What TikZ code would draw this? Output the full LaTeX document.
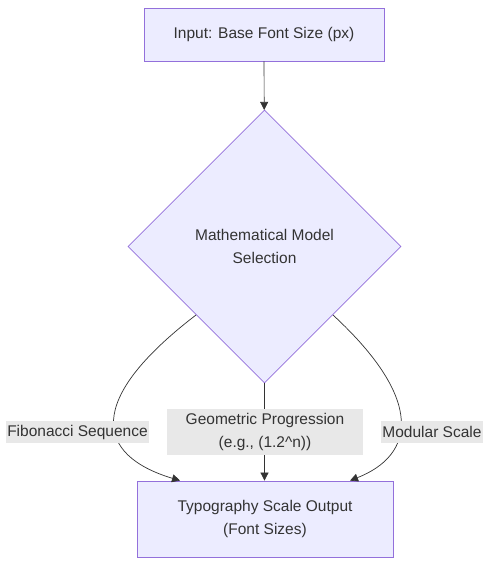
\documentclass[tikz,border=0pt]{standalone}
\usepackage{fontspec}
\setmainfont{Liberation Sans}
\usetikzlibrary{shapes.geometric,arrows.meta}
\definecolor{nodefill}{HTML}{ECECFF}
\definecolor{nodeline}{HTML}{9370DB}
\definecolor{edgecol}{HTML}{333333}
\definecolor{labelbg}{HTML}{E8E8E8}
\definecolor{txt}{HTML}{333333}
\tikzset{
  box/.style={draw=nodeline, fill=nodefill, line width=0.8pt, text=txt, align=center, inner sep=0pt, font=\fontsize{15.5}{23.5}\selectfont},
  dia/.style={diamond, draw=nodeline, fill=nodefill, line width=0.8pt, text=txt, align=center, inner sep=0pt, aspect=1, font=\fontsize{15.5}{23.5}\selectfont},
  edge/.style={draw=edgecol, line width=0.7pt, -{Triangle[length=8pt,width=8pt]}},
  lbl/.style={fill=labelbg, text=txt, align=center, inner sep=1pt, font=\fontsize{15.5}{22.5}\selectfont}
}
\begin{document}
\begin{tikzpicture}[x=1pt,y=-1pt]
\useasboundingbox (0,0) rectangle (497,574);
\node[box, minimum width=240pt, minimum height=53pt] (in) at (264,34.5) {Input: Base Font Size (px)};
\node[dia, minimum width=273pt, minimum height=273pt] (model) at (264.5,246.5) {Mathematical Model\\Selection};
\node[box, minimum width=256pt, minimum height=76pt] (out) at (265,519) {Typography Scale Output\\(Font Sizes)};
\coordinate (la) at (180,481);
\coordinate (ra) at (350,481);
\draw[edge] (in) -- (model);
\draw[edge] (model.south west) .. controls (85,400) and (95,455) .. (out.north -| la);
\draw[edge] (model.south) -- (out.north -| model.south);
\draw[edge] (model.south east) .. controls (425,400) and (415,455) .. (out.north -| ra);
\node[lbl, minimum width=139pt, minimum height=22pt] (l1) at (77.5,432) {Fibonacci Sequence};
\node[lbl, minimum width=196pt, minimum height=46pt] (l2) at (265,432) {Geometric Progression\\(e.g., (1.2\^{}n))};
\node[lbl, minimum width=98pt, minimum height=22pt] (l3) at (432,432) {Modular Scale};
\end{tikzpicture}
\end{document}
